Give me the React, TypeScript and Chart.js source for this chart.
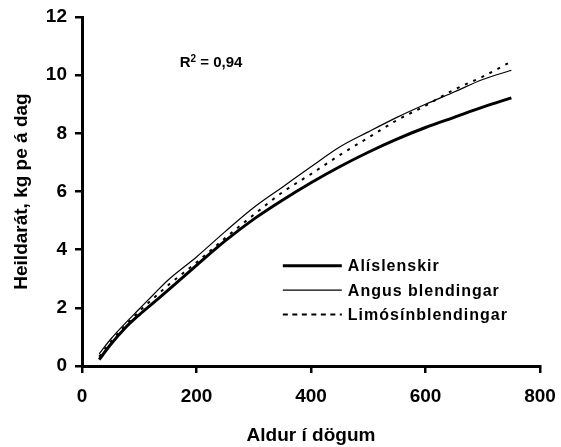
import React, { useEffect, useRef } from "react";
import { Chart, registerables } from "chart.js";

Chart.register(...registerables);

// ---- data ----
const ageDays = [30, 50, 75, 100, 125, 150, 200, 250, 300, 350, 400, 450, 500, 550, 600, 650, 700, 750];
const icelandic = [0.22, 0.74, 1.3, 1.76, 2.18, 2.6, 3.46, 4.3, 5.05, 5.7, 6.3, 6.85, 7.35, 7.8, 8.2, 8.55, 8.9, 9.22];
const angus = [0.42, 0.92, 1.46, 1.96, 2.46, 2.95, 3.75, 4.62, 5.45, 6.15, 6.85, 7.53, 8.05, 8.55, 9.0, 9.42, 9.85, 10.17];
const limousin = [0.32, 0.83, 1.38, 1.88, 2.33, 2.77, 3.56, 4.4, 5.2, 5.97, 6.6, 7.25, 7.85, 8.45, 8.95, 9.5, 9.95, 10.47];
const seriesNames = ["Alíslenskir", "Angus blendingar", "Limósínblendingar"];
const xTitle = "Aldur í dögum";
const yTitle = "Heildarát, kg pe á dag";
const r2Label = "0,94";

const FONT = '"Liberation Sans", Arial, sans-serif';

const toPoints = (ys: number[]) => ageDays.map((x, i) => ({ x, y: ys[i] }));

const overlayPlugin = {
  id: "overlay",
  afterDatasetsDraw(chart: any) {
    const { ctx, chartArea: a } = chart;
    const w = a.right - a.left;
    const h = a.bottom - a.top;
    ctx.save();
    ctx.fillStyle = "#000";
    ctx.strokeStyle = "#000";
    // R^2 annotation
    let x = a.left + w * 0.2135;
    const yb = a.top + h * 0.1433;
    ctx.textBaseline = "alphabetic";
    ctx.textAlign = "left";
    ctx.font = `bold 15px ${FONT}`;
    ctx.fillText("R", x, yb);
    x += ctx.measureText("R").width;
    ctx.font = `bold 10px ${FONT}`;
    ctx.fillText("2", x, yb - 5);
    x += ctx.measureText("2").width;
    ctx.font = `bold 15px ${FONT}`;
    ctx.fillText(" = " + r2Label, x, yb);

    // legend
    const lx0 = a.left + w * 0.4385;
    const lx1 = lx0 + 59;
    const tx = lx1 + 6;
    const y0 = a.top + h * 0.7128;
    const step = 24.4;
    chart.data.datasets.forEach((ds: any, i: number) => {
      const y = y0 + i * step;
      ctx.beginPath();
      ctx.lineWidth = ds.borderWidth;
      ctx.setLineDash(ds.legendDash || []);
      ctx.moveTo(lx0, y);
      ctx.lineTo(lx1, y);
      ctx.stroke();
      ctx.setLineDash([]);
      ctx.font = `bold 16px ${FONT}`;
      (ctx as any).letterSpacing = "1px";
      ctx.textBaseline = "middle";
      ctx.fillText(ds.label, tx, y + 1);
      (ctx as any).letterSpacing = "0px";
    });
    ctx.restore();
  },
};

export default function App() {
  const ref = useRef<HTMLCanvasElement | null>(null);
  useEffect(() => {
    if (!ref.current) return;
    const chart = new Chart(ref.current, {
      type: "line",
      data: {
        datasets: [
          {
            label: seriesNames[0],
            data: toPoints(icelandic),
            borderColor: "#000",
            borderWidth: 3,
            pointRadius: 0,
            cubicInterpolationMode: "monotone",
            fill: false,
          },
          {
            label: seriesNames[1],
            data: toPoints(angus),
            borderColor: "#000",
            borderWidth: 1.2,
            pointRadius: 0,
            cubicInterpolationMode: "monotone",
            fill: false,
          },
          {
            label: seriesNames[2],
            data: toPoints(limousin),
            borderColor: "#000",
            borderWidth: 2,
            borderDash: [3, 6],
            legendDash: [5, 4.5],
            pointRadius: 0,
            cubicInterpolationMode: "monotone",
            fill: false,
          },
        ],
      },
      options: {
        responsive: false,
        animation: false,
        layout: { padding: { left: 0, top: 17, right: 21, bottom: 0 } },
        plugins: { legend: { display: false }, tooltip: { enabled: false } },
        scales: {
          x: {
            type: "linear",
            min: 0,
            max: 800,
            ticks: { stepSize: 200, color: "#000", font: { family: FONT, size: 19, weight: "bold" }, padding: 12 },
            grid: { drawOnChartArea: false, drawTicks: true, tickLength: 7, color: "#000", lineWidth: 2.5 },
            border: { display: true, color: "#000", width: 3 },
            title: {
              display: true,
              text: xTitle,
              color: "#000",
              font: { family: FONT, size: 19, weight: "bold" },
              padding: { top: 0, bottom: 0 },
            },
            afterFit: (s: any) => {
              s.height = 81;
              s.paddingLeft = 0;
              s.paddingRight = 0;
            },
          },
          y: {
            type: "linear",
            min: 0,
            max: 12,
            ticks: { stepSize: 2, color: "#000", font: { family: FONT, size: 19, weight: "bold" }, padding: 8 },
            grid: { drawOnChartArea: false, drawTicks: true, tickLength: 7, color: "#000", lineWidth: 2.5 },
            border: { display: true, color: "#000", width: 3 },
            title: {
              display: true,
              text: yTitle,
              color: "#000",
              font: { family: FONT, size: 19, weight: "bold" },
              padding: { top: 10, bottom: 0 },
            },
            afterFit: (s: any) => {
              s.width = 82;
              s.paddingTop = 0;
              s.paddingBottom = 0;
            },
          },
        },
      },
      plugins: [overlayPlugin],
    } as any);
    return () => chart.destroy();
  }, []);
  return (
    <div style={{ position: "fixed", left: 0, top: 0, width: 561, height: 447, background: "#fff" }}>
      <canvas ref={ref} width={561} height={447} />
    </div>
  );
}
